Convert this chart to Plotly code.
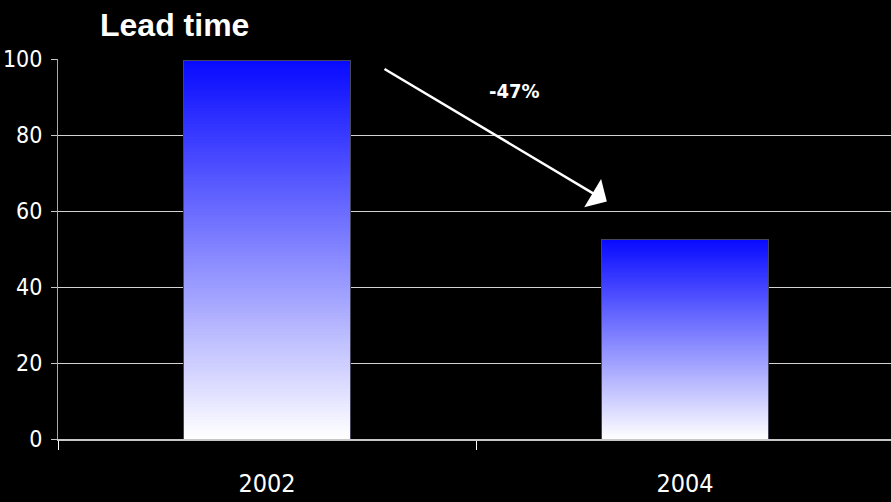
import plotly.graph_objects as go

categories = ["2002", "2004"]
lead_time = [99.5, 52.5]
y_ticks = [0, 20, 40, 60, 80, 100]
change_label = "-47%"
title_text = "Lead time"

N_SEG = 120
top_rgb = (8, 10, 255)
bot_rgb = (255, 255, 255)

NARROW = "Liberation Sans Narrow, DejaVu Sans Condensed, Arial Narrow, Liberation Sans"

fig = go.Figure()
for i in range(N_SEG):
    f = (i + 0.5) / N_SEG
    r = round(bot_rgb[0] + (top_rgb[0] - bot_rgb[0]) * f)
    g = round(bot_rgb[1] + (top_rgb[1] - bot_rgb[1]) * f)
    b = round(bot_rgb[2] + (top_rgb[2] - bot_rgb[2]) * f)
    fig.add_trace(go.Bar(
        x=categories,
        y=[v / N_SEG for v in lead_time],
        marker=dict(color=f"rgb({r},{g},{b})", line=dict(width=0)),
        showlegend=False, hoverinfo="skip",
    ))

# outline overlay
fig.add_trace(go.Bar(
    x=categories, y=lead_time, xaxis="x2",
    marker=dict(color="rgba(0,0,0,0)", line=dict(color="rgb(70,70,90)", width=1)),
    showlegend=False, hoverinfo="skip",
))

W, H = 891, 502
fig.update_layout(
    width=W, height=H,
    paper_bgcolor="black", plot_bgcolor="black",
    margin=dict(l=58, r=0, t=59, b=63, autoexpand=False),
    barmode="stack", bargap=0.6,
    title=dict(text=f"<b>{title_text}</b>", x=100 / W, xanchor="left",
               xref="container", y=1 - 25 / H, yanchor="middle", yref="container",
               font=dict(family="Liberation Sans, Arial", size=32, color="white")),
    xaxis=dict(
        type="category", range=[-0.5, 1.5 - 3 / 418], automargin=False,
        tickson="boundaries", ticks="outside", ticklen=9, tickcolor="white", tickwidth=1,
        showline=True, linecolor="rgb(200,200,200)", linewidth=2,
        showgrid=False, zeroline=False,
        tickfont=dict(family=NARROW, size=25, color="white"),
        ticklabelstandoff=21,
    ),
    xaxis2=dict(type="category", overlaying="x", range=[-0.5, 1.5 - 3 / 418],
                visible=False, matches=None),
    yaxis=dict(
        range=[0, 100], tickvals=y_ticks, ticks="outside", ticklen=6, automargin=False,
        tickcolor="rgb(200,200,200)", tickwidth=1,
        showline=True, linecolor="rgb(170,170,170)", linewidth=1,
        showgrid=True, gridcolor="rgb(210,210,210)", gridwidth=1,
        zeroline=False,
        tickfont=dict(family=NARROW, size=23, color="white"),
        ticklabelstandoff=4,
    ),
)

# arrow
fig.add_annotation(
    x=0.813, y=62.5, xref="x", yref="y",
    ax=0.2775, ay=97.6, axref="x", ayref="y",
    text="", showarrow=True, arrowhead=1, arrowsize=2.2, arrowwidth=2.5,
    arrowcolor="white",
)
fig.add_annotation(
    x=0.593, y=91.5, xref="x", yref="y",
    text=f"<b>{change_label}</b>", showarrow=False,
    font=dict(family=NARROW, size=20, color="white"),
)

fig.write_html("out.html")
